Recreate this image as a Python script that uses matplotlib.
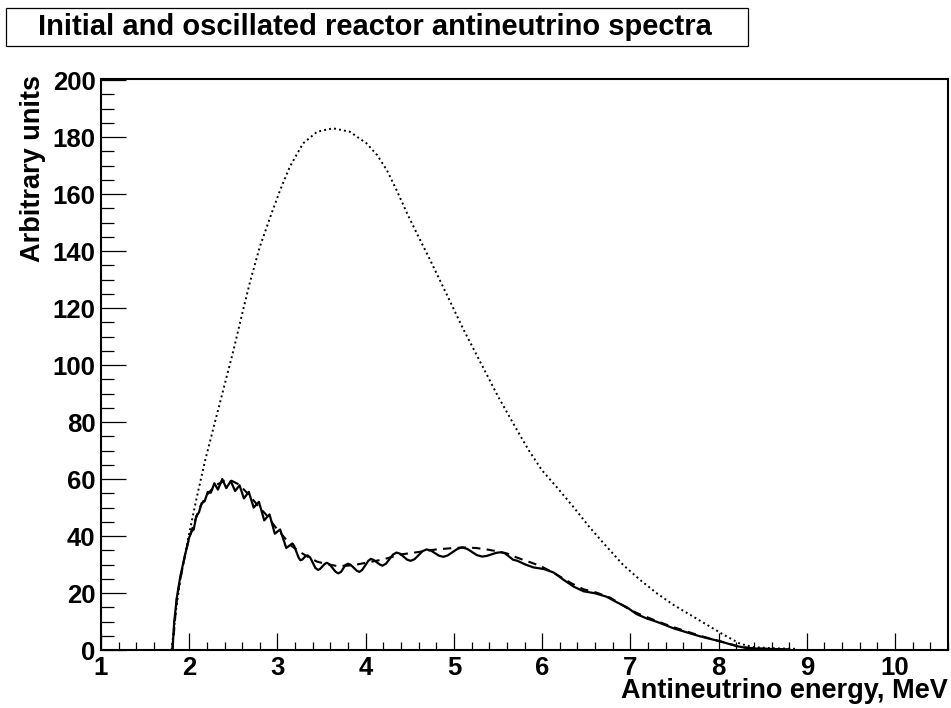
import matplotlib
matplotlib.use('Agg')
import matplotlib.pyplot as plt
from matplotlib.patches import Rectangle
from matplotlib.ticker import MultipleLocator

plt.rcParams['font.family'] = ['Liberation Sans', 'DejaVu Sans']
plt.rcParams['font.weight'] = 'bold'

# initial spectrum (dotted)
initial_e = [1.80, 1.85, 1.90, 1.95, 2.00, 2.085, 2.18, 2.30, 2.40, 2.50, 2.60, 2.69,
             2.80, 2.92, 3.03, 3.14, 3.29, 3.45, 3.63, 3.82, 4.01, 4.13, 4.24, 4.35,
             4.47, 4.58, 4.73, 4.94, 5.10, 5.30, 5.50, 5.70, 5.85, 6.00, 6.17, 6.36,
             6.54, 6.73, 6.92, 7.11, 7.30, 7.49, 7.68, 7.87, 8.06, 8.25, 8.40, 8.62, 8.89]
initial_v = [0, 14, 25, 33, 41, 53.5, 66.5, 81, 93, 105, 118, 129.3,
             141.5, 152.1, 161.4, 169.6, 177.8, 181.9, 183.1, 181.9, 177.8, 173.7, 168.4, 161.4,
             153.2, 146.2, 136.9, 123.4, 113, 101, 89, 78, 70, 63, 57, 50.0,
             43.0, 36.3, 29.8, 24.6, 19.9, 15.8, 12.3, 8.8, 5.3, 2.1, 1.0, 0.6, 0.4]

# oscillated spectrum (solid)
osc_e = [1.81, 1.83, 1.86, 1.90, 1.95, 2.00, 2.03, 2.05, 2.08, 2.11, 2.14, 2.175,
         2.21, 2.245, 2.285, 2.325, 2.375, 2.42, 2.47, 2.52, 2.57, 2.62, 2.675, 2.73,
         2.79, 2.85, 2.91, 2.97, 3.03, 3.10, 3.17, 3.19, 3.24, 3.26, 3.28, 3.32, 3.34,
         3.37, 3.43, 3.46, 3.485, 3.535, 3.56, 3.59, 3.66, 3.69, 3.72, 3.77, 3.80,
         3.83, 3.90, 3.93, 3.96, 4.03, 4.06, 4.09, 4.16, 4.19, 4.23, 4.31, 4.35,
         4.39, 4.47, 4.51, 4.555, 4.645, 4.69, 4.74, 4.83, 4.88, 4.93, 5.04, 5.09,
         5.15, 5.26, 5.32, 5.37, 5.48, 5.53, 5.58, 5.67, 5.72, 5.81, 5.90, 6.02,
         6.13, 6.24, 6.36, 6.47, 6.60, 6.73, 6.85, 6.96, 7.07, 7.19, 7.30, 7.49,
         7.67, 7.80, 8.01, 8.20, 8.30, 8.43, 8.60, 8.80]
osc_v = [0, 10, 18.5, 26, 33, 39.5, 41.8, 42.2, 47, 48.3, 51.5, 52.2,
         55.5, 55.2, 58.5, 56.3, 60, 56.8, 59.3, 55.8, 57.8, 53.2, 55.5, 50,
         52, 45.5, 47.6, 40.8, 42.3, 35.8, 37.4, 36.5, 32.4, 31.5, 31.7, 33.0, 33.2,
         32.5, 28.8, 28.1, 28.5, 30.2, 30.6, 30.1, 27.4, 26.9, 27.4, 29.8, 30.3,
         29.9, 27.8, 27.4, 28.1, 31.3, 32.0, 31.6, 30.0, 29.6, 30.3, 33.5, 34.2,
         33.8, 31.7, 31.3, 31.9, 34.7, 35.3, 34.9, 33.1, 32.7, 33.2, 35.5, 36.0,
         35.5, 33.3, 32.8, 33.0, 34.1, 34.3, 33.9, 31.7, 31.3, 30.0, 29.0, 28.4,
         27.2, 24.7, 22.2, 20.6, 19.9, 18.7, 16.7, 15.0, 12.6, 11.0, 9.9, 7.6,
         5.9, 4.7, 3.1, 1.4, 0.8, 0.5, 0.35, 0.25]

# averaged oscillated spectrum (dashed)
avg_e = [1.81, 1.86, 1.95, 2.00, 2.05, 2.12, 2.20, 2.30, 2.40, 2.48, 2.55, 2.62,
         2.69, 2.78, 2.88, 2.97, 3.07, 3.16, 3.26, 3.35, 3.45, 3.55, 3.67, 3.80,
         3.90, 4.05, 4.20, 4.39, 4.60, 4.80, 5.00, 5.11, 5.25, 5.37, 5.50, 5.60,
         5.70, 5.79, 5.90, 5.98, 6.13, 6.32, 6.47, 6.62, 6.77, 6.88, 7.00, 7.11,
         7.23, 7.45, 7.60, 7.80, 8.00, 8.20, 8.30, 8.45, 8.60, 8.80]
avg_v = [0, 18.5, 33, 39.5, 44, 50, 54.5, 57.8, 59.4, 59.4, 58.3, 56.3,
         54, 50.6, 47.2, 43.4, 39.8, 36.5, 34.3, 32.6, 31.0, 30.2, 29.5, 29.6,
         30.0, 30.9, 31.8, 33.5, 34.4, 35.3, 35.8, 36.0, 35.8, 35.3, 34.6, 33.9,
         32.6, 31.6, 30.4, 29.5, 27.1, 23.6, 21.3, 20.1, 18.4, 16.3, 14.0, 12.5,
         11.0, 8.4, 6.9, 4.9, 3.2, 1.5, 0.9, 0.5, 0.35, 0.25]

fig = plt.figure(figsize=(9.51, 7.08), dpi=100)
ax = fig.add_axes([101/951., 1 - 650/708., 847/951., 571/708.])

ax.plot(initial_e, initial_v, color='black', lw=1.4, linestyle=(0, (1, 1.6)))
ax.plot(avg_e, avg_v, color='black', lw=1.5, linestyle=(0, (4, 3)))
ax.plot(osc_e, osc_v, color='black', lw=1.6)

ax.set_xlim(1, 10.6)
ax.set_ylim(0, 200.4)

ax.xaxis.set_major_locator(MultipleLocator(1))
ax.xaxis.set_minor_locator(MultipleLocator(0.2))
ax.yaxis.set_major_locator(MultipleLocator(20))
ax.yaxis.set_minor_locator(MultipleLocator(5))

for sp in ax.spines.values():
	sp.set_linewidth(1.5)

ax.tick_params(axis='x', which='major', direction='in', length=12, width=0.9, pad=4, labelsize=18.5)
ax.tick_params(axis='x', which='minor', direction='in', length=6, width=0.9)
ax.tick_params(axis='y', which='major', direction='in', length=18, width=0.9, pad=4, labelsize=18.5)
ax.tick_params(axis='y', which='minor', direction='in', length=9.5, width=0.9)
for lab in ax.get_xticklabels() + ax.get_yticklabels():
	lab.set_fontweight('bold')

# title box
fig.patches.append(Rectangle((6/951., 1 - 46/708.), 742/951., 38/708., transform=fig.transFigure,
                             fill=False, edgecolor='black', lw=0.9))
fig.text(375/951., 1 - 27/708., 'Initial and oscillated reactor antineutrino spectra',
         ha='center', va='center', fontsize=21, fontweight='bold')

fig.text(33/951., 1 - 75/708., 'Arbitrary units', rotation=90, ha='center', va='top',
         fontsize=19.5, fontweight='bold')
fig.text(948/951., 1 - 698/708., 'Antineutrino energy, MeV', ha='right', va='baseline',
         fontsize=19.5, fontweight='bold')

fig.savefig('out.png', dpi=100)
